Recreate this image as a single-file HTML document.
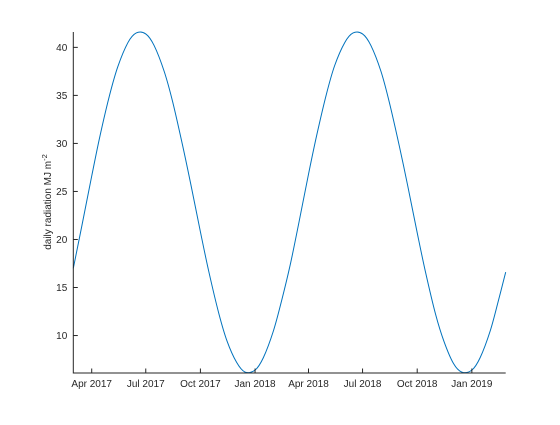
<!DOCTYPE html>
<html><head><meta charset="utf-8"><style>
html,body{margin:0;padding:0;background:#fff;}
svg text{font-family:"Liberation Sans",Arial,sans-serif;font-size:10px;fill:#262626;}
</style></head><body>
<svg id="chart" width="560" height="420">
<g id="plot"></g>
</svg>
<script>
const dates = ["2017-03-01","2017-03-15","2017-04-01","2017-04-15","2017-05-01","2017-05-15","2017-06-01","2017-06-15","2017-07-01","2017-07-15","2017-08-01","2017-08-15","2017-09-01","2017-09-15","2017-10-01","2017-10-15","2017-11-01","2017-11-15","2017-12-01","2017-12-15","2018-01-01","2018-01-15","2018-02-01","2018-02-15",
"2018-03-01","2018-03-15","2018-04-01","2018-04-15","2018-05-01","2018-05-15","2018-06-01","2018-06-15","2018-07-01","2018-07-15","2018-08-01","2018-08-15","2018-09-01","2018-09-15","2018-10-01","2018-10-15","2018-11-01","2018-11-15","2018-12-01","2018-12-15","2019-01-01","2019-01-15","2019-02-01","2019-02-15","2019-02-27"];
const radiation = [17.0,21.3,26.6,30.8,35.0,38.0,40.5,41.5,41.4,40.2,37.5,34.4,29.8,25.7,20.8,16.7,12.3,9.4,7.2,6.2,6.4,7.7,10.5,13.7,
17.3,21.5,26.8,30.9,35.1,38.1,40.5,41.5,41.4,40.2,37.5,34.3,29.7,25.6,20.7,16.6,12.2,9.4,7.1,6.2,6.4,7.7,10.5,13.7,16.6];
const yTicks = [10,15,20,25,30,35,40];
const xTickLabels = ["Apr 2017","Jul 2017","Oct 2017","Jan 2018","Apr 2018","Jul 2018","Oct 2018","Jan 2019"];
const xTickDates = ["2017-04-01","2017-07-01","2017-10-01","2018-01-01","2018-04-01","2018-07-01","2018-10-01","2019-01-01"];

const NS="http://www.w3.org/2000/svg";
const L=73.3,R=505.7,T=32,B=373;
const d0=Date.parse("2017-03-01"), d1=Date.parse("2019-02-27");
const yMin=6.1,yMax=41.6;
const xs=d=>L+(Date.parse(d)-d0)/(d1-d0)*(R-L);
const ys=v=>B-(v-yMin)/(yMax-yMin)*(B-T);
const g=document.getElementById('plot');
function mk(t,a){const e=document.createElementNS(NS,t);for(const k in a)e.setAttribute(k,a[k]);g.appendChild(e);return e;}

const P=dates.map((d,i)=>[xs(d),ys(radiation[i])]);
let path="M"+P[0][0].toFixed(2)+","+P[0][1].toFixed(2);
for(let i=0;i<P.length-1;i++){
 const p0=P[Math.max(0,i-1)],p1=P[i],p2=P[i+1],p3=P[Math.min(P.length-1,i+2)];
 const c1=[p1[0]+(p2[0]-p0[0])/6,p1[1]+(p2[1]-p0[1])/6];
 const c2=[p2[0]-(p3[0]-p1[0])/6,p2[1]-(p3[1]-p1[1])/6];
 path+=" C"+c1.map(v=>v.toFixed(2))+" "+c2.map(v=>v.toFixed(2))+" "+p2.map(v=>v.toFixed(2));
}
const line=mk('path',{d:path,fill:'none',stroke:'#0072BD','stroke-width':1});



const ax=mk('path',{d:`M${L},${T}V${B}H${R}`,fill:'none',stroke:'#262626','stroke-width':1});


yTicks.forEach(v=>{
 const y=ys(v);
 const t=mk('line',{x1:L,x2:L+4.5,y1:y,y2:y,stroke:'#262626'});
 
 
 const tx=mk('text',{x:L-6,y:y+3.5,'text-anchor':'end'});tx.textContent=v;
 
 
});
xTickDates.forEach((d,i)=>{
 const x=xs(d);
 const t=mk('line',{x1:x,x2:x,y1:B,y2:B-4.5,stroke:'#262626'});
 
 
 const tx=mk('text',{x:x,y:B+14,'text-anchor':'middle'});tx.textContent=xTickLabels[i];
 
 
});
const yl=mk('text',{x:0,y:0,transform:'translate(51,202) rotate(-90)','text-anchor':'middle','font-size':'11'});
yl.innerHTML='daily radiation MJ m<tspan dy="-4" font-size="7.5">-2</tspan>';


</script>
</body></html>
